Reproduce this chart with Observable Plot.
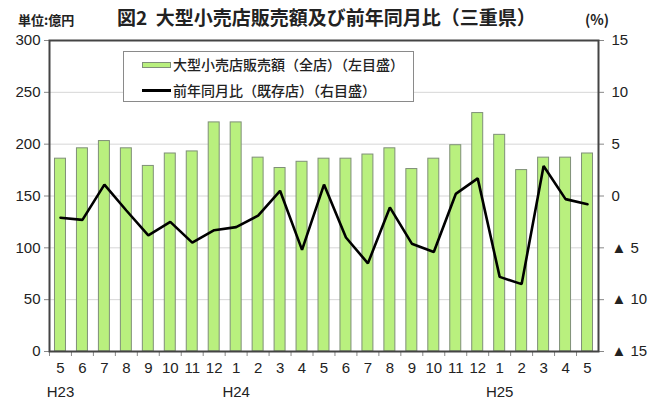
<!DOCTYPE html>
<html>
<head>
<meta charset="utf-8">
<script src="https://cdn.jsdelivr.net/npm/d3@7"></script>
<script src="https://cdn.jsdelivr.net/npm/@observablehq/plot@0.6"></script>
<style>
  body { margin: 0; background: #fff; }
  #wrap { position: relative; width: 660px; height: 402px; overflow: hidden; }
  .lbl { position: absolute; white-space: nowrap; line-height: 1; font-family: "Noto Sans CJK JP", sans-serif; color: #222; }
  #legend { position: absolute; left: 123px; top: 51px; width: 289px; height: 49px; border: 1px solid #8a8a8a; background: #fff; }
</style>
</head>
<body>
<div id="wrap">
  <div id="chart"></div>
  <div class="lbl" style="left:18px; top:13px; font-size:13px; font-weight:bold;">単位:億円</div>
  <div class="lbl" style="left:117px; top:7px; font-size:19px; font-weight:bold;">図2&nbsp;&nbsp;大型小売店販売額及び前年同月比（三重県）</div>
  <div class="lbl" style="left:585px; top:12px; font-size:14px; font-weight:bold;">(%)</div>
  <div id="legend">
    <div style="position:absolute; left:18px; top:10px; width:27px; height:4px; background:#b9f07e; border:1px solid #7f8f78;"></div>
    <div class="lbl" style="left:49px; top:5px; font-size:14px; font-weight:500;">大型小売店販売額（全店）（左目盛）</div>
    <div style="position:absolute; left:18px; top:37px; width:29px; height:2.5px; background:#000;"></div>
    <div class="lbl" style="left:49px; top:31px; font-size:14px; font-weight:500;">前年同月比（既存店）（右目盛）</div>
  </div>
</div>
<script>
const months = ["5","6","7","8","9","10","11","12","1","2","3","4","5","6","7","8","9","10","11","12","1","2","3","4","5"];
const sales = [186,196,203,196,179,191,193,221,221,187,177,183,186,186,190,196,176,186,199,230,209,175,187,187,191];
const yoy = [-2.1,-2.3,1.1,-1.4,-3.8,-2.5,-4.5,-3.3,-3.0,-1.9,0.5,-5.2,1.1,-4.0,-6.5,-1.1,-4.6,-5.4,0.2,1.7,-7.8,-8.5,2.9,-0.3,-0.8];
const yearLabels = ["H23","H24","H25"];
const yearIndex = [0, 8, 20];
const leftTicks = [0,50,100,150,200,250,300];
const rightTicks = [15,10,5,0,-5,-10,-15];
const rightTickLabels = ["15","10","5","0","▲ 5","▲ 10","▲ 15"];

// right axis (%) mapped onto the left scale domain [0,300]
const toLeft = p => (p + 15) * 10;

const rows = months.map((m, i) => ({i, m, sales: sales[i], yoy: yoy[i]}));
const years = yearLabels.map((t, k) => ({i: yearIndex[k], t}));
const rightMap = new Map(rightTicks.map((p, k) => [toLeft(p), rightTickLabels[k]]));

const chart = Plot.plot({
  width: 660,
  height: 402,
  marginTop: 40,
  marginBottom: 51,
  marginLeft: 49,
  marginRight: 62,
  style: {fontFamily: "'Liberation Sans', Arial, sans-serif", fontSize: "15px", color: "#222", overflow: "visible"},
  x: {type: "band", domain: d3.range(months.length), paddingInner: 0.5, paddingOuter: 0.25, round: false},
  y: {domain: [0, 300]},
  marks: [
    Plot.gridY(leftTicks, {stroke: "#d6d6d6", strokeOpacity: 1, strokeWidth: 1}),
    Plot.barY(rows, {x: "i", y: "sales", fill: "#b9f07e", stroke: "#7f8f78", strokeWidth: 1}),
    Plot.line(rows, {x: "i", y: d => toLeft(d.yoy), stroke: "#000", strokeWidth: 2.6, strokeLinejoin: "miter"}),
    Plot.axisY({ticks: leftTicks, anchor: "left", tickSize: 5, tickPadding: 4, stroke: "#888", label: null, fontSize: 15}),
    Plot.axisY({ticks: rightTicks.map(toLeft), anchor: "right", tickSize: 5, tickPadding: 8, stroke: "#888", label: null, fontSize: 15, textAnchor: "start", tickFormat: v => rightMap.get(v)}),
    Plot.axisX({anchor: "bottom", tickSize: 5, tickFormat: () => "", dx: -11, stroke: "#888", label: null}),
    Plot.axisX({anchor: "bottom", tickSize: 0, tickPadding: 11, tickFormat: i => months[i], label: null, fontSize: 15}),
    Plot.text(years, {x: "i", y: 0, text: "t", dy: 41, fontSize: 15, fill: "#222"}),
    Plot.frame({stroke: "#444", strokeWidth: 2})
  ]
});
document.getElementById("chart").appendChild(chart);
</script>
</body>
</html>
